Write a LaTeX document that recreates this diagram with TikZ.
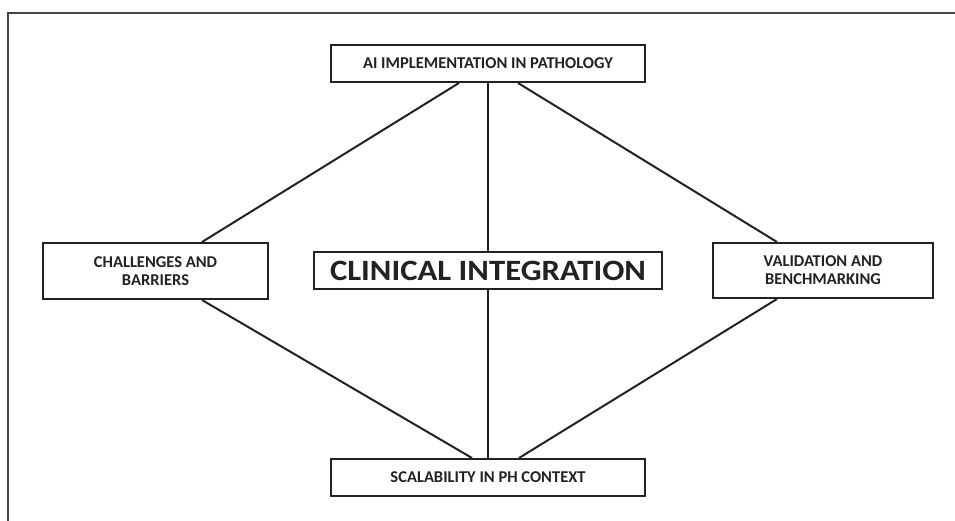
\documentclass[tikz,border=0pt]{standalone}
\usepackage{fontspec}
\setmainfont{Carlito}
\usetikzlibrary{calc}
\definecolor{ink}{HTML}{222222}
\begin{document}
\begin{tikzpicture}[x=1pt,y=-1pt,
  box/.style={draw=ink,line width=2pt,fill=white,inner sep=0pt,align=center,text=ink,
     font=\fontsize{16.5}{18}\selectfont\bfseries},
  link/.style={draw=ink,line width=2pt}]
\useasboundingbox (0,0) rectangle (955,521);
\draw[color=ink!85,line width=1.5pt] (8,521) -- (8,13) -- (955,13);
\node[box,minimum width=314pt,minimum height=37pt] (top) at (488,63.5) {AI IMPLEMENTATION IN PATHOLOGY};
\node[box,minimum width=314pt,minimum height=37pt] (bot) at (488,477.5) {SCALABILITY IN PH CONTEXT};
\node[box,minimum width=225pt,minimum height=56pt] (left) at (155.5,271) {CHALLENGES AND\\BARRIERS};
\node[box,minimum width=220pt,minimum height=55pt] (right) at (823,270.5) {VALIDATION AND\\BENCHMARKING};
\draw[link] ([xshift=-29pt]top.south) -- ([xshift=46.5pt]left.north);
\draw[link] ([xshift=30pt]top.south) -- ([xshift=-46pt]right.north);
\draw[link] ([xshift=46.5pt]left.south) -- ([xshift=-16pt]bot.north);
\draw[link] ([xshift=-46pt]right.south) -- ([xshift=31pt]bot.north);
\draw[link] (top.south) -- (bot.north);
\node[box,minimum width=348pt,minimum height=37pt,font=\fontsize{29.5}{32}\selectfont\bfseries] (clin) at (488,270.5) {\scalebox{1.11}[1]{CLINICAL INTEGRATION}};
\end{tikzpicture}
\end{document}
